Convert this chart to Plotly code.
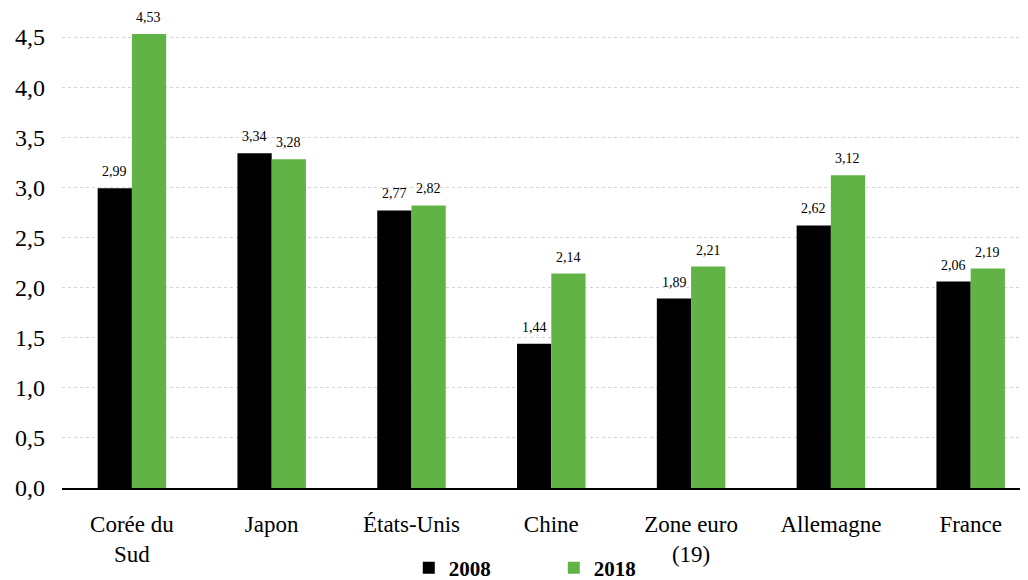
import plotly.graph_objects as go

categories = ["Corée du<br>Sud", "Japon", "États-Unis", "Chine", "Zone euro<br>(19)", "Allemagne", "France"]
values_2008 = [2.99, 3.34, 2.77, 1.44, 1.89, 2.62, 2.06]
values_2018 = [4.53, 3.28, 2.82, 2.14, 2.21, 3.12, 2.19]
series_names = ["2008", "2018"]
colors = ["#000000", "#62B346"]

FONT = "Liberation Serif, Times New Roman, serif"

fig = go.Figure()
for i, (name, vals, col) in enumerate(zip(series_names, [values_2008, values_2018], colors)):
    fig.add_trace(go.Bar(
        x=categories, y=vals, name=name, offsetgroup=str(i),
        marker=dict(color=col, line=dict(width=0)),
    ))

# value labels, positioned from data above each bar
annotations = []
for i, vals in enumerate([values_2008, values_2018]):
    for c, v in zip(categories, vals):
        annotations.append(dict(
            x=c, y=v, xref="x", yref="y", text=f"{v:.2f}".replace(".", ","),
            showarrow=False, yanchor="bottom", yshift=7,
            xshift=(-17 if i == 0 else 17),
            font=dict(family=FONT, size=14, color="#000000"),
        ))

fig.update_layout(
    width=1020, height=572,
    margin=dict(l=54, r=0, t=9, b=92, autoexpand=False),
    barmode="group", bargap=0.51, bargroupgap=0,
    plot_bgcolor="white", paper_bgcolor="white",
    separators=", ",
    font=dict(family=FONT, color="#000000"),
    showlegend=True,
    annotations=annotations,
    legend=dict(orientation="h", x=0.359, xanchor="left", y=-0.17, yanchor="middle",
                bgcolor="rgba(0,0,0,0)",
                font=dict(family=FONT, size=21, color="#000000", weight="bold"),
                entrywidth=100, itemsizing="constant", itemwidth=30),
    xaxis=dict(range=[-0.5, 6.41], showgrid=False, ticks="", showline=True, automargin=False,
               linecolor="#000000", linewidth=2, ticklabelstandoff=14,
               tickfont=dict(family=FONT, size=23, color="#000000")),
    yaxis=dict(range=[0, 4.7], dtick=0.5, tickformat=".1f", showgrid=True, automargin=False,
               gridcolor="#d4d4d4", griddash="dot", gridwidth=1, zeroline=False,
               ticks="", ticklabelstandoff=16,
               tickfont=dict(family=FONT, size=24, color="#000000")),
)
fig.write_html("out.html")
